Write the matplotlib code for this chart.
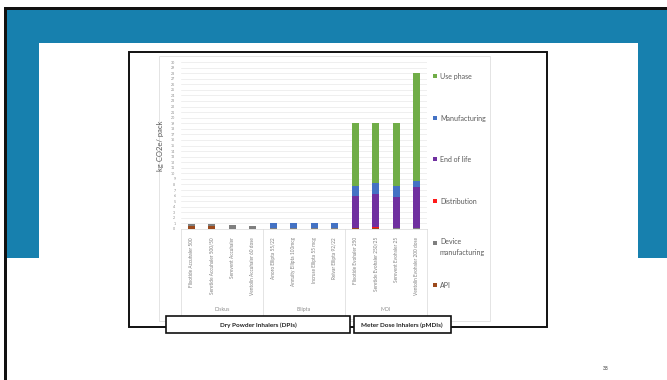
import numpy as np
import matplotlib.pyplot as plt
from matplotlib.patches import Rectangle
from matplotlib.lines import Line2D
import matplotlib.transforms as mtransforms

plt.rcParams['font.family'] = ['Lato', 'DejaVu Sans']

# data
categories = [
    "Flixotide Accuhaler 500", "Seretide Accuhaler 500/50", "Serevent Accuhaler",
    "Ventolin Accuhaler 60 dose",
    "Anoro Ellipta 55/22", "Annuity Ellipta 100mcg", "Incruse Ellipta 55 mcg",
    "Relvar Ellipta 92/22",
    "Flixotide Evohaler 250", "Seretide Evohaler 250/25", "Serevent Evohaler 25",
    "Ventolin Evohaler 200 dose",
]
groups = ["Diskus", "Ellipta", "MDI"]
group_sizes = [4, 4, 4]

api = [0.45, 0.45, 0.08, 0.05, 0.05, 0.05, 0.05, 0.05, 0.10, 0.15, 0.05, 0.02]
device_mfg = [0.45, 0.45, 0.72, 0.55, 0.10, 0.10, 0.10, 0.10, 0.10, 0.10, 0.10, 0.15]
distribution = [0.0, 0.0, 0.0, 0.0, 0.0, 0.0, 0.0, 0.0, 0.05, 0.05, 0.05, 0.05]
end_of_life = [0.0, 0.0, 0.0, 0.0, 0.0, 0.0, 0.0, 0.0, 5.6, 6.0, 5.6, 7.3]
manufacturing = [0.0, 0.0, 0.0, 0.0, 0.85, 0.85, 0.85, 0.85, 1.9, 2.0, 1.9, 1.1]
use_phase = [0.0, 0.0, 0.0, 0.0, 0.0, 0.0, 0.0, 0.0, 11.25, 10.7, 11.3, 19.4]

series = [
    ("API", api, "#9c4a1c"),
    ("Device\nmanufacturing", device_mfg, "#7f7f7f"),
    ("Distribution", distribution, "#ff1a1a"),
    ("End of life", end_of_life, "#7030a0"),
    ("Manufacturing", manufacturing, "#4472c4"),
    ("Use phase", use_phase, "#70ad47"),
]

W, H = 667, 380
fig = plt.figure(figsize=(W / 100, H / 100), dpi=100)
fig.patch.set_facecolor("white")


def box(x0, y0, x1, y1, **kw):
    r = Rectangle((x0 / W, 1 - y1 / H), (x1 - x0) / W, (y1 - y0) / H,
                  transform=fig.transFigure, **kw)
    fig.add_artist(r)
    return r


# slide background
box(4, 7, 667, 380, facecolor="#111111", edgecolor="none", zorder=0)
box(7, 10, 667, 380, facecolor="white", edgecolor="none", zorder=0)
box(7, 10, 667, 258, facecolor="#1780ae", edgecolor="none", zorder=0)
box(39, 43, 638, 380, facecolor="white", edgecolor="none", zorder=0)
box(129, 52, 547, 327, facecolor="white", edgecolor="#111111", lw=1.4, zorder=0)
box(159, 56, 490, 321, facecolor="white", edgecolor="#d9d9d9", lw=0.5, zorder=0)

ax = fig.add_axes([181 / W, 1 - 229 / H, 246 / W, 167 / H])
ax.set_zorder(2)
ax.patch.set_alpha(0)

x = np.arange(len(categories))
bottom = np.zeros(len(categories))
for name, vals, col in series:
    ax.bar(x, vals, width=0.36, bottom=bottom, color=col, zorder=3)
    bottom += np.array(vals)

ax.set_xlim(-0.5, len(categories) - 0.5)
ax.set_ylim(0, 30)
ax.set_yticks(range(0, 31))
ax.tick_params(axis="y", labelsize=2.6, colors="#8c8c8c", length=0, pad=4)
ax.grid(axis="y", color="#e3e3e3", lw=0.4, zorder=0)
ax.set_xticks(x)
ax.set_xticklabels(categories, rotation=90, fontsize=3.4, color="#7f7f7f", va="top")
ax.tick_params(axis="x", length=0, pad=6)
for s in ["top", "right", "left"]:
    ax.spines[s].set_visible(False)
ax.spines["bottom"].set_color("#d9d9d9")
ax.spines["bottom"].set_linewidth(0.5)
ax.set_ylabel("kg CO2e/ pack", fontsize=5.5, color="#595959", labelpad=5)

# group labels and separators
trans = mtransforms.blended_transform_factory(ax.transData, ax.transAxes)
edges = np.concatenate([[0], np.cumsum(group_sizes)]) - 0.5
for e in edges:
    ax.add_line(Line2D([e, e], [0, -0.54], transform=trans, color="#d9d9d9",
                       lw=0.5, clip_on=False))
ax.add_line(Line2D([edges[0], edges[-1]], [-0.54, -0.54], transform=trans,
                   color="#d9d9d9", lw=0.5, clip_on=False))
for g, a, b in zip(groups, edges[:-1], edges[1:]):
    ax.text((a + b) / 2, -0.48, g, transform=trans, ha="center", va="center",
            fontsize=3.8, color="#8c8c8c")

# legend drawn at the right
legend_y = [76, 118, 159, 201, 247, 285]
for (name, vals, col), yy in zip(series[::-1], legend_y):
    first_line = yy - 4 if "\n" in name else yy
    box(433, first_line - 2, 437, first_line + 2, facecolor=col, edgecolor="none", zorder=3)
    fig.text(440 / W, 1 - yy / H, name, fontsize=5, color="#595959",
             ha="left", va="center", linespacing=1.5)

# group boxes
box(166, 316, 350, 333, facecolor="white", edgecolor="#111111", lw=1.2, zorder=3)
box(354, 316, 451, 333, facecolor="white", edgecolor="#111111", lw=1.2, zorder=3)
fig.text(258 / W, 1 - 325 / H, "Dry Powder Inhalers (DPIs)", fontsize=4.6,
         fontweight="bold", color="#222222", ha="center", va="center", zorder=4)
fig.text(402 / W, 1 - 325 / H, "Meter Dose Inhalers (pMDIs)", fontsize=4.6,
         fontweight="bold", color="#222222", ha="center", va="center", zorder=4)

fig.text(606 / W, 1 - 369 / H, "38", fontsize=3.5, color="#333333",
         ha="center", va="center")

fig.savefig("out.png", dpi=100)
